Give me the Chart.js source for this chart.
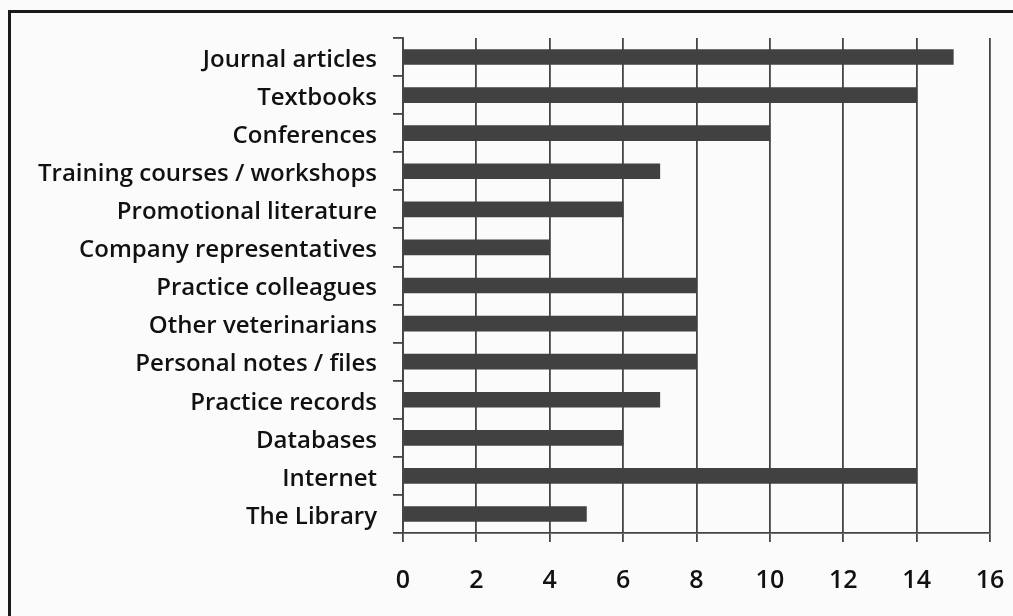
<!DOCTYPE html>
<html>
<head>
<meta charset="utf-8">
<script src="https://cdn.jsdelivr.net/npm/chart.js@4/dist/chart.umd.min.js"></script>
<style>
  html, body { margin: 0; padding: 0; background: #fbfbfb; }
  #wrap { position: relative; width: 1013px; height: 616px; overflow: hidden; }
  #frame { position: absolute; left: 8px; top: 10px; width: 1100px; height: 700px;
           border-left: 3px solid #1a1a1a; border-top: 3px solid #1a1a1a; }
  canvas { position: absolute; left: 0; top: 0; }
</style>
</head>
<body>
<div id="wrap">
  <div id="frame"></div>
  <canvas id="graphCanvas" width="1013" height="616"></canvas>
</div>
<script>
// sources of information, top to bottom
let categories = [
    'Journal articles',
    'Textbooks',
    'Conferences',
    'Training courses / workshops',
    'Promotional literature',
    'Company representatives',
    'Practice colleagues',
    'Other veterinarians',
    'Personal notes / files',
    'Practice records',
    'Databases',
    'Internet',
    'The Library'
];
let counts = [15, 14, 10, 7, 6, 4, 8, 8, 8, 7, 6, 14, 5];
let xTicks = [0, 2, 4, 6, 8, 10, 12, 14, 16];

let ctx = document.getElementById('graphCanvas').getContext('2d');
let chart = new Chart(ctx, {
    type: 'bar',
    data: {
        labels: categories,
        datasets: [{
            data: counts,
            backgroundColor: '#414141',
            borderWidth: 0,
            barThickness: 15
        }]
    },
    options: {
        indexAxis: 'y',
        responsive: false,
        animation: false,
        layout: { padding: { top: 38, right: 23, bottom: 0, left: 0 } },
        plugins: { legend: { display: false }, tooltip: { enabled: false } },
        scales: {
            x: {
                min: 0,
                max: 16,
                afterBuildTicks: s => { s.ticks = xTicks.map(v => ({ value: v })); },
                afterFit: s => { s.height = 83; s.paddingRight = 0; s.paddingLeft = 0; },
                grid: { color: '#454545', lineWidth: 1.8, tickLength: 9, drawTicks: true },
                border: { color: '#454545', width: 1.8 },
                ticks: { color: '#111', padding: 24, font: { family: 'Open Sans', size: 25, weight: '600' } }
            },
            y: {
                afterFit: s => { s.width = 403; },
                grid: { offset: true, drawOnChartArea: false, color: '#454545', lineWidth: 1.8, tickLength: 10 },
                border: { color: '#454545', width: 1.8 },
                ticks: { color: '#111', padding: 16, labelOffset: 3, font: { family: 'Open Sans', size: 24, weight: '600' } }
            }
        }
    }
});
</script>
</body>
</html>
